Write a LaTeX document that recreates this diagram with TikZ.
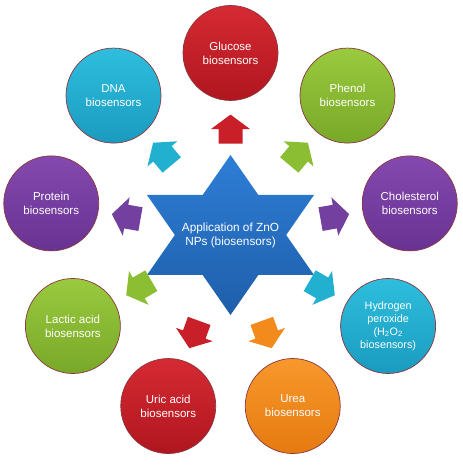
\documentclass[tikz,border=0pt]{standalone}
\usepackage{fontspec}
\setmainfont{Liberation Sans}
\usetikzlibrary{calc}
\definecolor{redT}{HTML}{D52A33}
\definecolor{redB}{HTML}{B0161F}
\definecolor{redM}{HTML}{C81F28}
\definecolor{grnT}{HTML}{9ACA3E}
\definecolor{grnB}{HTML}{78A828}
\definecolor{grnM}{HTML}{8CBE34}
\definecolor{purT}{HTML}{8449AE}
\definecolor{purB}{HTML}{683292}
\definecolor{purM}{HTML}{7440A0}
\definecolor{cyaT}{HTML}{2EBEDD}
\definecolor{cyaB}{HTML}{1A9BBF}
\definecolor{cyaM}{HTML}{22B0D0}
\definecolor{orgT}{HTML}{F8982C}
\definecolor{orgB}{HTML}{E57A10}
\definecolor{orgM}{HTML}{F28A1C}
\definecolor{starT}{HTML}{2E7ED6}
\definecolor{starB}{HTML}{1E5EAA}
\definecolor{rimc}{HTML}{8A3640}
\begin{document}
\begin{tikzpicture}[x=1pt,y=1pt,
  bubble/.style={circle, minimum size=95pt, inner sep=0pt, draw=rimc, line width=0.7pt,
    text=white, align=center, font=\fontsize{11.5}{14}\selectfont},
  blockarrow/.pic={\path[pic actions] (-14.5,-12) -- (0,-12) -- (0,-19.5) -- (14.5,0)
      -- (0,19.5) -- (0,12) -- (-14.5,12) -- cycle;},
  redfill/.style={top color=redT, bottom color=redB},
  grnfill/.style={top color=grnT, bottom color=grnB},
  purfill/.style={top color=purT, bottom color=purB},
  cyafill/.style={top color=cyaT, bottom color=cyaB},
  orgfill/.style={top color=orgT, bottom color=orgB},
]
\useasboundingbox (0,0) rectangle (462,470);
\coordinate (ctr) at (230.5,235);
% star
\path[top color=starT, bottom color=starB]
  (230.5,315) -- (147,195) -- (314,195) -- cycle
  (230.5,155) -- (314,275) -- (147,275) -- cycle;
\node[text=white, align=center, font=\fontsize{11.8}{14}\selectfont] (star) at (ctr)
  {Application of ZnO\\NPs (biosensors)};
% circles
\node[bubble, redfill] (c1) at ($(ctr)+(90:182)$) {Glucose\\biosensors};
\node[bubble, grnfill] (c2) at ($(ctr)+(50:182)$) {Phenol\\biosensors};
\node[bubble, purfill] (c3) at ($(ctr)+(10:182)$) {Cholesterol\\biosensors};
\node[bubble, cyafill, font=\fontsize{10.8}{13}\selectfont] (c4) at ($(ctr)+(-30:182)$)
  {Hydrogen\\peroxide\\(H\textsubscript{2}O\textsubscript{2}\\biosensors)};
\node[bubble, orgfill] (c5) at ($(ctr)+(-70:182)$) {Urea\\biosensors};
\node[bubble, redfill] (c6) at ($(ctr)+(-110:182)$) {Uric acid\\biosensors};
\node[bubble, grnfill] (c7) at ($(ctr)+(-150:182)$) {Lactic acid\\biosensors};
\node[bubble, purfill] (c8) at ($(ctr)+(170:182)$) {Protein\\biosensors};
\node[bubble, cyafill] (c9) at ($(ctr)+(130:182)$) {DNA\\biosensors};
% arrow anchors
\foreach \i in {1,...,9} {\coordinate (a\i) at ($(ctr)!0.582!(c\i)$);}
% arrows
\pic[fill=redM, rotate=90]   at (a1) {blockarrow};
\pic[fill=grnM, rotate=50]   at (a2) {blockarrow};
\pic[fill=purM, rotate=10]   at (a3) {blockarrow};
\pic[fill=cyaM, rotate=-30]  at (a4) {blockarrow};
\pic[fill=orgM, rotate=-70]  at (a5) {blockarrow};
\pic[fill=redM, rotate=-110] at (a6) {blockarrow};
\pic[fill=grnM, rotate=-150] at (a7) {blockarrow};
\pic[fill=purM, rotate=170]  at (a8) {blockarrow};
\pic[fill=cyaM, rotate=130]  at (a9) {blockarrow};
\end{tikzpicture}
\end{document}
